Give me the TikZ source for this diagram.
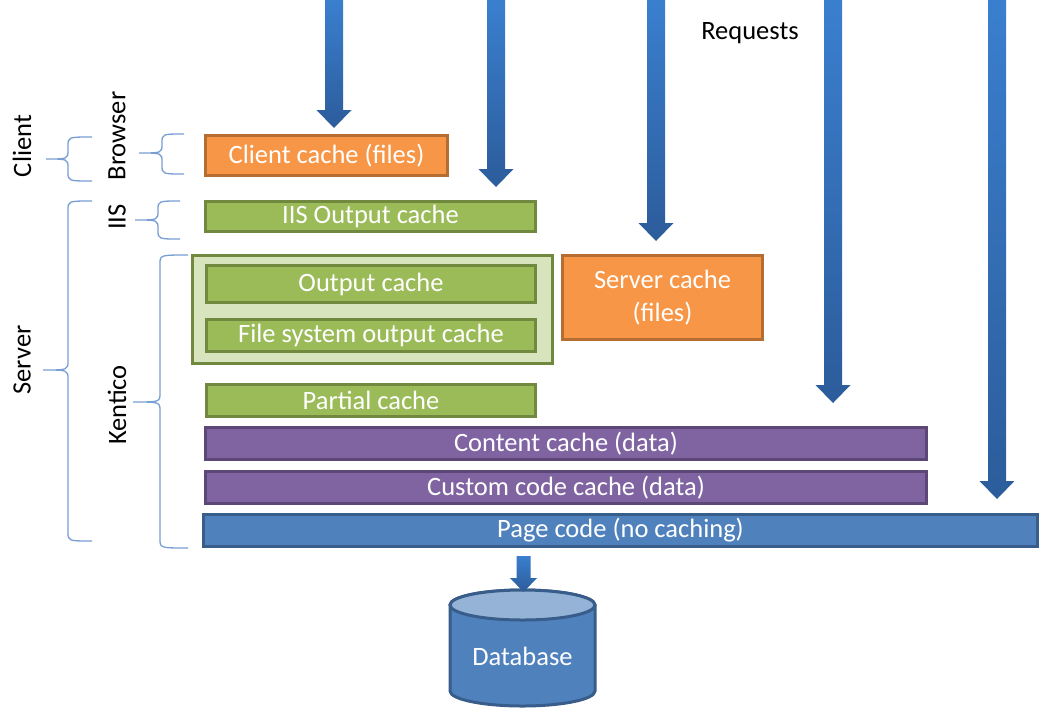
\documentclass[tikz,border=0pt]{standalone}
\usepackage{fontspec}
\setmainfont{Carlito}
\usetikzlibrary{calc}
\definecolor{orf}{RGB}{247,150,70}
\definecolor{ord}{RGB}{182,109,49}
\definecolor{grf}{RGB}{155,187,89}
\definecolor{grd}{RGB}{113,137,63}
\definecolor{grl}{RGB}{215,228,189}
\definecolor{puf}{RGB}{128,100,162}
\definecolor{pud}{RGB}{92,71,118}
\definecolor{blf}{RGB}{79,129,189}
\definecolor{bld}{RGB}{56,93,138}
\definecolor{bll}{RGB}{149,179,215}
\definecolor{arrtop}{RGB}{58,127,207}
\definecolor{arrbot}{RGB}{44,92,155}
\definecolor{brc}{RGB}{120,158,210}
\tikzset{
  txt/.style={font=\fontsize{26.5}{33}\selectfont},
  box/.style={txt, text=white, line width=3pt, inner sep=0pt, align=center},
  orbox/.style={box, fill=orf, draw=ord},
  grbox/.style={box, fill=grf, draw=grd},
  pubox/.style={box, fill=puf, draw=pud},
  blbox/.style={box, fill=blf, draw=bld},
  lbl/.style={txt, text=black, inner sep=0pt},
  brace/.style={draw=brc, line width=1.3pt},
  reqarrow/.style={top color=arrtop, bottom color=arrbot, draw=none}
}
\newcommand\mybrace[6]{% xe xv xt y1 ym y2
  \draw[brace] (#1,#4) .. controls (#2,#4) .. (#2,#4+9) -- (#2,#5-9) .. controls (#2,#5) .. (#3,#5)
    (#3,#5) .. controls (#2,#5) .. (#2,#5+9) -- (#2,#6-9) .. controls (#2,#6) .. (#1,#6);}
\newcommand\reqarrow[4]{% top, tip, half shaft, head length
  \path[reqarrow] let \p1=(#1), \p2=(#2) in
    (\x1-#3pt,\y1) -- (\x1-#3pt,\y2+#4pt) -- (\x1-#3pt-8.5pt,\y2+#4pt) -- (\x2,\y2)
    -- (\x1+#3pt+8.5pt,\y2+#4pt) -- (\x1+#3pt,\y2+#4pt) -- (\x1+#3pt,\y1) -- cycle;}
\begin{document}
\begin{tikzpicture}[x=1pt,y=-1pt]
\useasboundingbox (0,0) rectangle (1046,713);
\fill[white] (0,0) rectangle (1046,713);

% boxes
\node[orbox, minimum width=242pt, minimum height=40pt] (client) at (326.5,155.5) {Client cache (files)};
\node[grbox, minimum width=330pt, minimum height=30pt] (iis) at (370.5,216.5) {IIS Output cache};
\node[box, fill=grl, draw=grd, line width=2.5pt, minimum width=360pt, minimum height=108pt] (group) at (372.5,309.5) {};
\node[grbox, minimum width=329pt, minimum height=37pt] (output) at (371,284) {Output cache};
\node[grbox, minimum width=329pt, minimum height=32pt] (fsoc) at (371,335.5) {File system output cache};
\node[orbox, minimum width=200pt, minimum height=84pt] (server) at (662.5,297.5) {Server cache\\(files)};
\node[grbox, minimum width=329pt, minimum height=32pt] (partial) at (371,400.5) {Partial cache};
\node[pubox, minimum width=721pt, minimum height=32pt] (content) at (566,443.5) {Content cache (data)};
\node[pubox, minimum width=721pt, minimum height=32pt] (custom) at (566,487.5) {Custom code cache (data)};
\node[blbox, minimum width=834pt, minimum height=32pt] (page) at (620.5,530.5) {Page code (no caching)};

% database
\path[fill=blf, draw=bld, line width=3pt] (450,605) -- (450,691) arc[start angle=180, end angle=360, x radius=72.5, y radius=-15] -- (595,605) arc[start angle=0, end angle=180, x radius=72.5, y radius=-15] -- cycle;
\path[fill=bll, draw=bld, line width=3pt] (522.5,605) ellipse[x radius=72.5, y radius=15];
\node[txt, text=white] (db) at (522.5,656) {Database};

% labels
\node[lbl] (req) at (750,33) {Requests};
\node[lbl, rotate=90] (lclient) at (22,146) {Client};
\node[lbl, rotate=90] (lbrowser) at (117,136) {Browser};
\node[lbl, rotate=90] (liis) at (117,217) {IIS};
\node[lbl, rotate=90] (lserver) at (22,360) {Server};
\node[lbl, rotate=90] (lkentico) at (117,405) {Kentico};

% braces
\mybrace{92}{68}{46}{137}{159}{181}
\mybrace{184}{162}{139}{134}{153}{174}
\mybrace{180}{158}{135}{201}{220}{239}
\mybrace{92}{68}{43}{201}{370}{541}
\mybrace{188}{160}{133}{255}{402}{548}

% request arrows
\coordinate (t1) at (334,0);   \coordinate (h1) at (334,128);
\coordinate (t2) at (496,0);   \coordinate (h2) at (496,187);
\coordinate (t3) at (656,0);   \coordinate (h3) at (656,241);
\coordinate (t4) at (833,0);   \coordinate (h4) at (833,403);
\coordinate (t5) at (997,0);   \coordinate (h5) at (997,499);
\reqarrow{t1}{h1}{9}{18}
\reqarrow{t2}{h2}{9}{18}
\reqarrow{t3}{h3}{9}{18}
\reqarrow{t4}{h4}{9}{18}
\reqarrow{t5}{h5}{9}{18}
% page -> database
\coordinate (dbtop) at (523.5,592);
\coordinate (pgbot) at (523.5,556);
\path[reqarrow] let \p1=(pgbot), \p2=(dbtop) in
  (\x1-7pt,\y1) -- (\x1-7pt,\y2+14pt) -- (\x1-13.5pt,\y2+14pt) -- (\x2,\y2)
  -- (\x1+13.5pt,\y2+14pt) -- (\x1+7pt,\y2+14pt) -- (\x1+7pt,\y1) -- cycle;
\end{tikzpicture}
\end{document}
